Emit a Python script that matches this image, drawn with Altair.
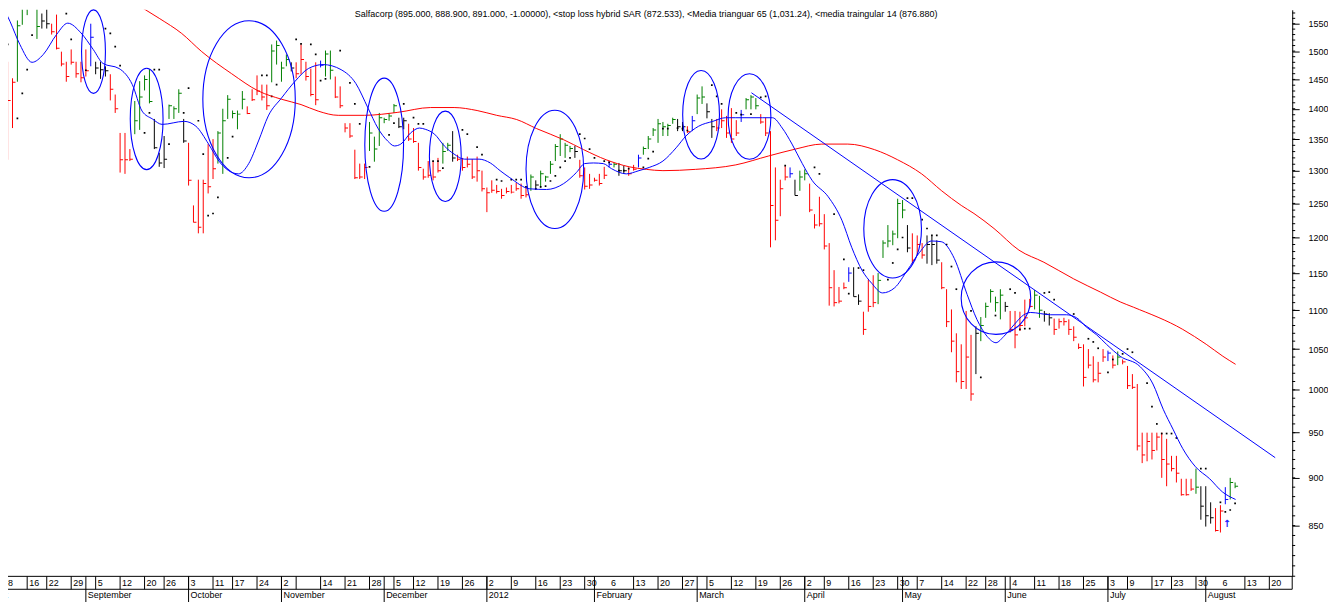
import altair as alt
import pandas as pd

# ---------------- data ----------------
high = [1406,1481,1452,1556,1600,1605,1610,1582,1569,1578,
        1550,1567,1499,1481,1503,1481,1481,1503,1550,1481,
        1481,1473,1459,1424,1360,1360,1334,1413,1447,1457,
        1468,1383,1328,1355,1407,1404,1433,1383,1344,1247,
        1286,1286,1342,1350,1363,1400,1423,1397,1397,1430,
        1404,1433,1457,1441,1441,1512,1519,1481,1494,1480,
        1480,1512,1481,1469,1480,1483,1501,1501,1455,1438,
        1376,1376,1333,1311,1311,1378,1354,1393,1385,1393,
        1408,1385,1385,1375,1368,1344,1303,1315,1315,1320,
        1344,1344,1363,1325,1320,1322,1318,1322,1300,1274,
        1285,1278,1272,1274,1278,1281,1280,1275,1294,1285,
        1300,1292,1315,1342,1358,1344,1339,1339,1317,1305,
        1295,1289,1295,1306,1315,1312,1312,1308,1305,1309,
        1325,1338,1355,1368,1383,1378,1375,1385,1383,1378,
        1371,1388,1424,1438,1409,1383,1383,1399,1388,1401,
        1381,1398,1418,1423,1418,1391,1385,1363,1305,1286,
        1307,1305,1286,1300,1302,1280,1234,1260,1234,1192,
        1154,1131,1137,1158,1158,1121,1098,1141,1147,1150,
        1196,1218,1210,1257,1255,1218,1206,1203,1192,1203,
        1202,1196,1165,1128,1101,1070,1056,1099,1068,1079,
        1091,1110,1128,1118,1128,1111,1099,1099,1098,1114,
        1115,1127,1119,1099,1096,1089,1089,1090,1088,1079,
        1057,1056,1050,1041,1034,1050,1048,1042,1047,1037,
        1029,1019,1007,950,950,950,950,950,943,924,
        924,899,899,899,910,891,891,874,868,871,
        890,900,895]
low = [1292,1317,1368,1446,1548,1566,1582,1522,1541,1541,
       1530,1503,1473,1446,1476,1453,1445,1455,1473,1459,
       1451,1455,1414,1393,1297,1295,1315,1358,1365,1431,
       1409,1334,1306,1304,1383,1383,1393,1344,1277,1222,
       1206,1206,1265,1287,1311,1295,1383,1384,1366,1399,
       1391,1413,1423,1414,1398,1445,1476,1446,1473,1464,
       1452,1459,1448,1421,1406,1471,1455,1450,1418,1401,
       1361,1352,1287,1287,1287,1331,1314,1339,1376,1380,
       1393,1368,1366,1347,1344,1300,1286,1289,1285,1297,
       1311,1331,1314,1315,1300,1305,1287,1283,1268,1237,
       1266,1265,1257,1265,1265,1269,1257,1259,1269,1271,
       1274,1283,1295,1315,1323,1320,1329,1320,1289,1271,
       1272,1283,1277,1287,1305,1305,1292,1295,1292,1300,
       1305,1325,1334,1355,1344,1355,1355,1375,1363,1363,
       1360,1363,1391,1408,1384,1352,1363,1368,1352,1344,
       1355,1378,1399,1399,1399,1375,1355,1186,1196,1231,
       1285,1289,1262,1269,1285,1237,1213,1216,1183,1106,
       1105,1109,1128,1138,1118,1107,1068,1098,1104,1108,
       1171,1186,1189,1199,1228,1179,1163,1175,1170,1163,
       1161,1163,1128,1078,1046,1009,1001,1001,987,1019,
       1060,1090,1110,1098,1088,1098,1071,1051,1073,1079,
       1103,1101,1090,1085,1080,1068,1076,1080,1068,1060,
       1050,1004,1026,1009,1009,1034,1035,1026,1030,1031,
       1001,1001,930,916,918,920,930,900,891,907,
       895,881,881,886,883,856,849,852,844,843,
       872,877,888.9]
close = [1307,1414,1445,1546,1582,1590,1600,1545,1555,1550,
         1535,1505,1477,1455,1480,1460,1453,1465,1525,1470,
         1467,1465,1433,1400,1317,1317,1318,1380,1420,1450,
         1412,1336,1312,1318,1405,1400,1426,1347,1285,1222,
         1215,1280,1275,1303,1360,1380,1416,1392,1391,1416,
         1392,1415,1430,1420,1405,1500,1510,1470,1485,1470,
         1460,1485,1455,1424,1415,1475,1495,1466,1420,1405,
         1368,1355,1289,1290,1305,1360,1334,1385,1382,1388,
         1405,1370,1380,1350,1346,1305,1290,1293,1290,1300,
         1330,1340,1320,1318,1305,1310,1290,1300,1272,1266,
         1270,1268,1262,1268,1267,1272,1262,1263,1290,1278,
         1295,1290,1310,1338,1350,1340,1335,1330,1292,1276,
         1278,1285,1280,1293,1310,1310,1300,1300,1295,1302,
         1320,1335,1350,1365,1375,1370,1372,1382,1370,1370,
         1362,1380,1418,1420,1395,1370,1368,1380,1360,1350,
         1360,1390,1415,1420,1405,1378,1360,1247,1225,1272,
         1290,1295,1262,1290,1295,1240,1218,1220,1188,1130,
         1110,1112,1130,1150,1118,1112,1075,1105,1110,1140,
         1192,1195,1205,1250,1240,1185,1168,1190,1175,1190,
         1190,1168,1130,1085,1060,1022,1010,1040,995,1070,
         1080,1105,1125,1110,1120,1105,1075,1068,1080,1090,
         1105,1120,1100,1095,1090,1075,1085,1085,1075,1065,
         1052,1015,1030,1012,1020,1040,1045,1030,1040,1034,
         1005,1003,935,925,940,930,945,920,915,910,
         905,882,882,888,890,870,860,858,845,865,
         877,895,891]
# bar kind: d = down (red), u = up (green), f = flat (black), s = signal (blue)
kind_str = ("ddd" "uuuuu" "ff" "dddddddd" "s" "fff" "ddddd" "uuuu" "fff" "uuu" "f"
            "dddddd" "uuuuuu" "ddddd" "uuuu" "f" "ddddd" "s" "uu" "ddddddd" "uuuuuu"
            "ff" "ddddddd" "uu" "f" "ddddddddddddddd" "u" "f" "uuuuuuu" "f" "dddddd"
            "s" "u" "ff" "dd" "s" "uuuuuuu" "ff" "d" "s" "uu" "ff" "ddddd" "s" "uuu"
            "dddddd" "s" "f" "uu" "dddddddd" "s" "ff" "ddd" "uuuuuu" "f" "ddd" "fff"
            "ddddddd" "f" "uuuuu" "f" "ddddd" "uu" "ff" "ddddddddddd" "s" "d" "u"
            "ddddddddddddddd" "u" "fff" "dd" "s" "uu")
kind = list((kind_str + "d" * len(high))[:len(high)])
day = list(range(len(high)))  # trading-day number

sar_idx = [0,1,3,4,5,6,12,13,14,17,21,22,23,24,29,30,31,32,34,37,38,40,41,42,43,44,46,47,
           53,54,55,56,60,61,63,64,65,66,69,71,72,73,75,79,80,82,84,85,86,88,89,90,94,95,
           97,98,101,102,104,105,106,107,109,110,111,112,113,114,115,116,118,119,120,121,
           123,124,126,127,128,131,132,133,135,136,138,139,140,145,146,147,150,151,153,155,
           156,160,166,167,170,172,173,175,176,181,182,183,184,185,186,188,189,190,191,193,
           194,195,198,200,203,206,207,208,209,210,213,214,215,219,222,223,224,226,227,229,
           230,231,234,235,236,237,238,239,240,245,246,249,250,251,252]
sar_val = [1526,1512,1384,1426,1467,1529,1585,1569,1521,1466,1541,1532,1508,1474,1360,1393,
           1467,1467,1342,1393,1435,1380,1326,1232,1235,1259,1320,1354,1457,1457,1421,1441,
           1521,1513,1512,1494,1448,1451,1501,1444,1408,1375,1306,1357,1376,1408,1385,1375,
           1375,1315,1315,1304,1365,1358,1337,1325,1286,1284,1286,1286,1286,1275,1272,1275,
           1276,1284,1292,1305,1315,1320,1358,1351,1334,1320,1315,1313,1300,1300,1303,1305,
           1319,1330,1367,1367,1368,1367,1364,1440,1421,1408,1393,1390,1391,1419,1421,1308,
           1305,1295,1234,1169,1122,1157,1154,1141,1164,1183,1200,1258,1258,1226,1213,1203,
           1203,1190,1159,1128,1099,1015,1093,1128,1123,1075,1076,1076,1123,1124,1114,1095,
           1063,1059,1051,1021,1037,1044,1050,1046,1008,980,960,949,949,949,944,910,910,874,
           864,866,873]

ma14_idx = [-0.5,1.5,3.5,6.0,8.3,11.0,13.3,16.0,18.5,20.5,23.8,26.5,28.5,30.6,32.6,37.1,39.5,
            42.1,44.2,46.2,48.2,50.3,52.3,54.3,57.0,59.8,62.5,65.5,69.2,72.2,74.7,76.7,78.7,
            80.1,81.4,83.4,85.2,86.4,88.3,90.3,92.3,94.4,97.4,99.7,101.7,103.7,107.8,111.2,
            114.7,117.3,119.0,120.8,122.8,124.5,127.5,130.1,132.2,135.0,137.7,139.7,142.3,
            145.2,147.8,149.9,155.4,157.4,159.4,161.4,163.5,165.5,168.8,171.6,173.6,175.7,
            177.7,179.9,182.4,185.0,187.5,189.9,191.9,194.6,197.2,199.2,201.3,203.1,204.7,
            206.8,208.8,210.2,214.3,217.5,219.6,221.6,223.7,225.7,228.5,232.6,235.2,237.3,
            239.3,241.3,243.9,246.8,249.4,252.1]
ma14_val = [1591,1554,1512,1480,1494,1530,1551,1533,1503,1478,1469,1441,1396,1383,1374,1379,
            1371,1342,1315,1300,1295,1311,1347,1388,1418,1447,1469,1476,1467,1443,1401,1368,
            1347,1339,1342,1360,1368,1366,1358,1339,1326,1318,1318,1312,1300,1289,1272,1271,
            1280,1297,1311,1312,1311,1303,1295,1300,1305,1315,1336,1355,1371,1379,1385,1385,
            1385,1385,1368,1342,1311,1285,1260,1225,1186,1154,1136,1123,1130,1154,1179,1195,
            1194,1170,1121,1088,1066,1058,1066,1081,1094,1097,1094,1094,1090,1078,1068,1056,
            1041,1028,1007,977,954,932,912,899,885,877]

ma65_idx = [24.0,26.5,32.0,36.6,40.7,46.8,52.3,57.0,61.0,64.5,68.6,74.0,80.8,87.5,92.3,97.0,
            101.0,105.1,109.2,114.7,118.8,123.4,128.1,131.6,135.0,141.7,149.9,156.6,162.1,
            167.5,172.8,178.3,183.0,187.9,192.0,196.0,198.6,202.7,207.8,212.9,219.0,224.5,
            228.5,231.2,241.3,246.1,249.5,252.1]
ma65_val = [1605,1591,1560,1532,1499,1460,1430,1416,1407,1396,1389,1389,1394,1402,1402,1397,
            1389,1382,1367,1349,1333,1317,1306,1302,1300,1302,1309,1323,1334,1342,1342,1333,
            1317,1295,1269,1247,1235,1213,1182,1165,1142,1124,1111,1104,1075,1056,1041,1031]

trend_idx = [153.1, 260.2]
trend_val = [1427, 922]

ell_idx = [18.56, 29.43, 50.37, 78.0, 90.5, 112.9, 142.8, 152.7, 181.97, 203.1]
ell_val = [1499, 1383, 1416, 1341, 1322.5, 1302, 1390, 1387, 1212.6, 1116]
ell_rx = [12, 16.5, 46.5, 19.5, 16, 29, 18.5, 21.5, 29, 35]
ell_ry = [42, 51, 79, 67, 45.5, 59.5, 44.5, 43, 49.5, 36.5]

arrow_idx = [250.3]
arrow_val = [852]

week_idx = [0,5,9,14,19,24,29,33,38,43,47,52,57,60,65,70,75,80,84,89,94,99,104,109,114,119,
            124,129,134,139,144,149,154,159,164,168,173,178,183,187,192,197,201,206,211,216,
            221,226,230,235,239,244,249,254,259]
week_lab = ['8','16','22','29','5','12','20','26','3','11','17','24','2','','14','21','28',
            '5','12','19','26','2','9','16','23','30','6','13','20','27','5','12','19','26',
            '2','9','16','23','30','7','14','22','28','4','11','18','25','3','9','17','23',
            '30','6','13','20']
no_line_weeks = [124, 249]
month_idx = [-5, 17, 38, 57, 78, 99, 121, 142, 164, 184, 205, 226, 246]
month_lab = ['August','September','October','November','December','2012','February',
             'March','April','May','June','July','August']

y_major = [850, 900, 950, 1000, 1050, 1100, 1150, 1200, 1250, 1300, 1350, 1400, 1450, 1500, 1550]
y_minor = list(range(800, 1580, 10))

title = ("Salfacorp (895.000, 888.900, 891.000, -1.00000), <stop loss hybrid SAR (872.533), "
         "<Media trianguar 65 (1,031.24), <media traingular 14 (876.880)")

# ---------------- chart ----------------
W, H = 1292, 570
FONT = "Liberation Sans"
xs = alt.Scale(domain=[1.0772, 263.68], nice=False, zero=False)
ys = alt.Scale(type="log", domain=[799.88, 1576.04], nice=False, zero=False)
yaxis = alt.Axis(orient="right", values=y_major, format="d", title=None, grid=False,
                 tickSize=7, labelPadding=9, labelFont=FONT, labelFontSize=9,
                 labelColor="black", domainColor="black", tickColor="black",
                 domainWidth=1, tickWidth=1, labelOverlap=False, labelFlush=False)


def X(f):
    return alt.X(f, type="quantitative", scale=xs, axis=None)


def Y(f):
    return alt.Y(f, type="quantitative", scale=ys, axis=yaxis)


bars_df = pd.DataFrame({"i": day, "high": high, "low": low, "close": close, "kind": kind})
color = alt.Color("kind:N", legend=None,
                  scale=alt.Scale(domain=["d", "u", "f", "s"],
                                  range=["#ff0000", "#008000", "#000000", "#0000ff"]))

bars = alt.Chart(bars_df).mark_rule(strokeWidth=1, clip=True).encode(
    x=X("i"), y=Y("low"), y2="high", color=color)
closes = alt.Chart(bars_df).mark_tick(orient="horizontal", size=3, thickness=1, xOffset=1.5,
                                      opacity=1, clip=True).encode(
    x=X("i"), y=Y("close"), color=color)

sar = alt.Chart(pd.DataFrame({"i": sar_idx, "v": sar_val})).mark_square(
    size=3, color="black", opacity=1, clip=True).encode(x=X("i"), y=Y("v"))

ma65 = alt.Chart(pd.DataFrame({"i": ma65_idx, "v": ma65_val})).mark_line(
    color="#ff0000", strokeWidth=1, interpolate="monotone", clip=True).encode(x=X("i"), y=Y("v"))
ma14 = alt.Chart(pd.DataFrame({"i": ma14_idx, "v": ma14_val})).mark_line(
    color="#0000ff", strokeWidth=1, interpolate="monotone", clip=True).encode(x=X("i"), y=Y("v"))
trend = alt.Chart(pd.DataFrame({"i": trend_idx, "v": trend_val})).mark_line(
    color="#0000ff", strokeWidth=1, clip=True).encode(x=X("i"), y=Y("v"))


def ellipse_path(rx, ry):
    r = max(rx, ry)
    a, b, k = rx / r, ry / r, 0.5523
    p = [(a, 0), (a, k * b), (k * a, b), (0, b), (-k * a, b), (-a, k * b), (-a, 0),
         (-a, -k * b), (-k * a, -b), (0, -b), (k * a, -b), (a, -k * b), (a, 0)]
    s = lambda q: f"{q[0]:.4f} {q[1]:.4f}"
    return ("M " + s(p[0]) + " C " + s(p[1]) + " " + s(p[2]) + " " + s(p[3]) +
            " C " + s(p[4]) + " " + s(p[5]) + " " + s(p[6]) +
            " C " + s(p[7]) + " " + s(p[8]) + " " + s(p[9]) +
            " C " + s(p[10]) + " " + s(p[11]) + " " + s(p[12]) + " Z")


ell_df = pd.DataFrame({
    "i": ell_idx, "v": ell_val,
    "shape": [ellipse_path(a, b) for a, b in zip(ell_rx, ell_ry)],
    "sz": [(2 * max(a, b)) ** 2 for a, b in zip(ell_rx, ell_ry)],
})
ellipses = alt.Chart(ell_df).mark_point(filled=False, color="#0000ff", strokeWidth=1.1,
                                        opacity=1).encode(
    x=X("i"), y=Y("v"), shape=alt.Shape("shape:N", scale=None),
    size=alt.Size("sz:Q", scale=None))

arrow = alt.Chart(pd.DataFrame({"i": arrow_idx, "v": arrow_val, "t": ["↑"]})).mark_text(
    font="DejaVu Sans", fontSize=10, fontWeight="bold", color="#2020ff",
    baseline="middle", align="center").encode(x=X("i"), y=Y("v"), text="t")

minor = alt.Chart(pd.DataFrame({"v": y_minor})).mark_rule(color="black", strokeWidth=1).encode(
    y=Y("v"), x=alt.value(W), x2=alt.value(W + 3))

title_layer = alt.Chart(pd.DataFrame({"t": [title]})).mark_text(
    font=FONT, fontSize=9, color="black", align="center", baseline="top").encode(
    x=alt.value(642), y=alt.value(0), text="t")

one = pd.DataFrame({"a": [0]})
hline1 = alt.Chart(one).mark_rule(color="black", strokeWidth=1).encode(
    x=alt.value(0), x2=alt.value(W), y=alt.value(H))
hline2 = alt.Chart(one).mark_rule(color="black", strokeWidth=1).encode(
    x=alt.value(0), x2=alt.value(W), y=alt.value(H + 13))
rbox = alt.Chart(one).mark_rule(color="black", strokeWidth=1).encode(
    x=alt.value(W), y=alt.value(H), y2=alt.value(H + 13))

wk_df = pd.DataFrame({"i": week_idx[1:], "lab": week_lab[1:]})
first_wk_df = pd.DataFrame({"lab": week_lab[:1]})
line_df = pd.DataFrame({"i": [w for w in week_idx if w not in no_line_weeks]})
mo_df = pd.DataFrame({"i": month_idx, "lab": month_lab})

day_lines = alt.Chart(line_df).mark_rule(color="black", strokeWidth=1).encode(
    x=X("i"), y=alt.value(H), y2=alt.value(H + 13))
month_lines = alt.Chart(mo_df).mark_rule(color="black", strokeWidth=1).encode(
    x=X("i"), y=alt.value(H), y2=alt.value(H + 26))
day_text = alt.Chart(wk_df).mark_text(font=FONT, fontSize=9, color="black", align="left",
                                      baseline="middle", dx=2).encode(
    x=X("i"), y=alt.value(H + 6.5), text="lab")
first_day_text = alt.Chart(first_wk_df).mark_text(font=FONT, fontSize=9, color="black",
                                                  align="left", baseline="middle").encode(
    x=alt.value(0), y=alt.value(H + 6.5), text="lab")
month_text = alt.Chart(mo_df).mark_text(font=FONT, fontSize=9, color="black", align="left",
                                        baseline="middle", dx=2).encode(
    x=X("i"), y=alt.value(H + 19), text="lab")

chart = alt.layer(
    bars, closes, sar, ma65, ma14, trend, ellipses, arrow, minor, title_layer,
    hline1, hline2, rbox, day_lines, month_lines, day_text, first_day_text, month_text
).properties(
    width=W, height=H, background="white",
    padding={"left": 0, "top": 0, "right": 36, "bottom": 24},
    autosize=alt.AutoSizeParams(type="none"),
).configure_view(stroke=None)

chart.save("out.html", embed_options={"renderer": "svg", "actions": False})
